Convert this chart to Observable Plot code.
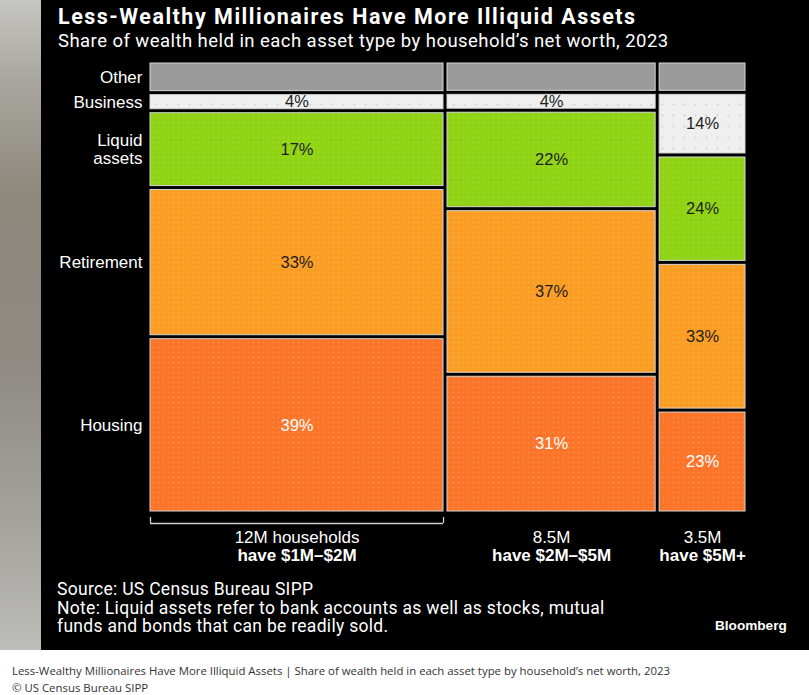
<!DOCTYPE html>
<html>
<head>
<meta charset="utf-8">
<script src="https://cdn.jsdelivr.net/npm/d3@7"></script>
<script src="https://cdn.jsdelivr.net/npm/@observablehq/plot@0.6"></script>
<style>
  html, body { margin: 0; padding: 0; background: #fff; }
  #page { position: relative; width: 809px; height: 695px; overflow: hidden; background: #fff; }
  #strip { position: absolute; left: 0; top: 0; width: 41px; height: 650px;
    background: linear-gradient(180deg, #c6c6c2 0%, #a9a7a0 12%, #8d887c 30%, #8e8a82 55%, #a3a29d 80%, #bdbdb9 100%); }
  #panel { position: absolute; left: 41px; top: 0; width: 768px; height: 650px; background: #000; color: #fff; }
  #title { position: absolute; left: 17px; top: 4px; font-family: Roboto, sans-serif; font-weight: 700; font-size: 21.5px; letter-spacing: 1.5px; white-space: nowrap; }
  #subtitle { position: absolute; left: 17px; top: 30px; font-family: Roboto, sans-serif; font-size: 18.5px; letter-spacing: 0.45px; white-space: nowrap; }
  #chart { position: absolute; left: 0; top: 55px; }
  #source { position: absolute; left: 16px; top: 580px; font-family: Roboto, sans-serif; font-size: 17.5px; letter-spacing: 0.3px; line-height: 18.7px; white-space: nowrap; }
  #logo { position: absolute; left: 674px; top: 618px; font-family: "Liberation Sans", Arial, sans-serif; font-weight: 700; font-size: 13.6px; }
  #caption { position: absolute; left: 12px; top: 662px; font-family: "Open Sans", sans-serif; font-size: 11.4px; color: #333; line-height: 17px; white-space: nowrap; }
</style>
</head>
<body>
<svg width="0" height="0" style="position:absolute">
  <defs>
    <pattern id="dots" width="5" height="5" patternUnits="userSpaceOnUse">
      <circle cx="2.5" cy="2.5" r="0.9" fill="rgba(255,255,255,0.16)"></circle>
    </pattern>
    <pattern id="dotsB" width="11" height="11" patternUnits="userSpaceOnUse">
      <circle cx="5.5" cy="5.5" r="1.1" fill="#cfcfcf"></circle>
    </pattern>
  </defs>
</svg>
<div id="page">
  <div id="strip"></div>
  <div id="panel">
    <div id="title">Less-Wealthy Millionaires Have More Illiquid Assets</div>
    <div id="subtitle">Share of wealth held in each asset type by household’s net worth, 2023</div>
    <div id="chart"></div>
    <div id="source">Source: US Census Bureau SIPP<br>Note: Liquid assets refer to bank accounts as well as stocks, mutual<br>funds and bonds that can be readily sold.</div>
    <div id="logo">Bloomberg</div>
  </div>
  <div id="caption">Less-Wealthy Millionaires Have More Illiquid Assets | Share of wealth held in each asset type by household’s net worth, 2023<br>© US Census Bureau SIPP</div>
</div>
<script>
// ---- Data ----
const groups = ["have $1M–$2M", "have $2M–$5M", "have $5M+"];
const householdLabels = ["12M households", "8.5M", "3.5M"];
const households = [11.9, 8.5, 3.6]; // millions of households (column widths)
const assetTypes = ["Housing", "Retirement", "Liquid assets", "Business", "Other"];
const rowLabels = ["Housing", "Retirement", "Liquid\nassets", "Business", "Other"];
const housing = [39, 31, 23];
const retirement = [33, 37, 33];
const liquid = [17, 22, 24];
const business = [4, 4, 14];
const other = [7, 7, 7];

// ---- Build mosaic table ----
const series = [housing, retirement, liquid, business, other];
const columns = [];
const cells = [];
let xs = 0;
groups.forEach((g, i) => {
  const x1 = xs, x2 = xs + households[i];
  xs = x2;
  columns.push({group: g, label: householdLabels[i], x1, x2});
  const vals = series.map(s => s[i]);
  const total = d3.sum(vals);
  let c = 0;
  vals.forEach((v, j) => {
    cells.push({col: i, group: g, type: assetTypes[j], rowLabel: rowLabels[j], value: v,
      x1, x2, y1: c / total, y2: (c + v) / total});
    c += v;
  });
});
const totalHouseholds = d3.sum(households);
const mid = d => (d.x1 + d.x2) / 2;
const ymid = d => (d.y1 + d.y2) / 2;
const dotted = d => d.type !== "Business" && d.type !== "Other";

const chart = Plot.plot({
  width: 768,
  height: 520,
  marginLeft: 107,
  marginRight: 62,
  marginTop: 6,
  marginBottom: 62,
  style: {background: "transparent", color: "#fff", fontFamily: "'Liberation Sans', Arial, sans-serif", overflow: "visible"},
  x: {domain: [0, totalHouseholds], axis: null},
  y: {domain: [0, 1], axis: null},
  color: {domain: assetTypes, range: ["#fb7427", "#fb9d22", "#8fd313", "#efefef", "#9b9b9b"]},
  marks: [
    Plot.rect(cells, {x1: "x1", x2: "x2", y1: "y1", y2: "y2", fill: "type", inset: 2, stroke: "#d6d6d6", strokeWidth: 1}),
    Plot.rect(cells, {filter: dotted, x1: "x1", x2: "x2", y1: "y1", y2: "y2", fill: "url(#dots)", inset: 2.5}),
    Plot.rect(cells, {filter: d => d.type === "Business", x1: "x1", x2: "x2", y1: "y1", y2: "y2", fill: "url(#dotsB)", inset: 2.5}),
    // percent labels
    Plot.text(cells, {filter: d => d.type !== "Other" && d.type !== "Housing", x: mid, y: ymid, text: d => d.value + "%", fill: "#1e1e1e", fontSize: 16.5}),
    Plot.text(cells, {filter: d => d.type === "Housing", x: mid, y: ymid, text: d => d.value + "%", fill: "#fff", fontSize: 16.5}),
    // row labels (from first column)
    Plot.text(cells, {filter: d => d.col === 0, x: "x1", y: ymid, text: "rowLabel", textAnchor: "end", dx: -6, fill: "#fff", fontSize: 17, lineHeight: 1.05}),
    // bracket under first column
    Plot.ruleY(columns.slice(0, 1), {x1: "x1", x2: "x2", y: () => 0, dy: 10, insetLeft: 2, insetRight: 2, stroke: "#cfcfcf", strokeWidth: 1.3}),
    Plot.ruleX(columns.slice(0, 1), {x: "x1", y1: () => 0, y2: () => 0, insetTop: -6, dy: 10, dx: 2, stroke: "#cfcfcf", strokeWidth: 1.3}),
    Plot.ruleX(columns.slice(0, 1), {x: "x2", y1: () => 0, y2: () => 0, insetTop: -6, dy: 10, dx: -2, stroke: "#cfcfcf", strokeWidth: 1.3}),
    // column labels
    Plot.text(columns, {x: mid, y: () => 0, text: "label", dy: 24, fill: "#fff", fontSize: 17}),
    Plot.text(columns, {x: mid, y: () => 0, text: "group", dy: 42, fill: "#fff", fontSize: 17, fontWeight: "bold"})
  ]
});
document.getElementById("chart").appendChild(chart);
</script>
</body>
</html>
